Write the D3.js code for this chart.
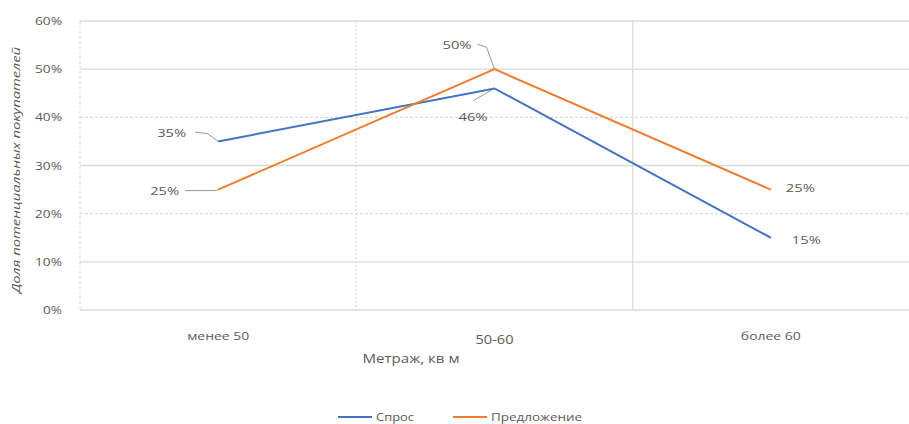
<!DOCTYPE html>
<html><head><meta charset="utf-8">
<script src="https://cdn.jsdelivr.net/npm/d3@7"></script>
<style>body{margin:0;background:#fff}svg{display:block;font-family:"Open Sans","DejaVu Sans",sans-serif}</style>
</head><body><svg id="c" width="909" height="424"></svg>
<script>
const categories = ["менее 50", "50-60", "более 60"];
const seriesNames = ["Спрос", "Предложение"];
const demand = [35, 46, 15];
const supply = [25, 50, 25];
const yTicks = [0, 10, 20, 30, 40, 50, 60];
const colors = ["#4472C4", "#ED7D31"];

const svg = d3.select("#c");
const m = {l: 80, r: 0, t: 21, b: 114};
const W = 909, H = 424;
const x = d3.scaleBand().domain(categories).range([m.l, W - m.r]);
const y = d3.scaleLinear().domain([0, 60]).range([H - m.b, m.t]);
const gridCol = "#d6ddd6";
const txt = "#5a5a5a";

// horizontal gridlines
svg.append("g").selectAll("line").data(yTicks).join("line")
  .attr("x1", m.l).attr("x2", W).attr("y1", d => y(d)).attr("y2", d => y(d))
  .attr("stroke", gridCol).attr("stroke-width", d => d === 0 ? 1.5 : 1.3)
  .attr("stroke-dasharray", d => (d === 20 || d === 40) ? "3,2" : null);
// vertical separators
svg.append("g").selectAll("line").data(categories.slice(1)).join("line")
  .attr("x1", d => x(d)).attr("x2", d => x(d)).attr("y1", m.t).attr("y2", y(0))
  .attr("stroke", gridCol).attr("stroke-width", 1.2)
  .attr("stroke-dasharray", (d, i) => i === 0 ? "2,2" : null);
svg.append("line").attr("x1", m.l).attr("x2", m.l).attr("y1", m.t).attr("y2", y(0))
  .attr("stroke", gridCol).attr("stroke-dasharray", "3,2");

// y axis labels
svg.append("g").selectAll("text").data(yTicks).join("text")
  .attr("x", 62).attr("y", d => y(d) + 4).attr("text-anchor", "end")
  .attr("font-size", 11).attr("fill", txt)
  .attr("textLength", d => d === 0 ? 19 : 27).attr("lengthAdjust", "spacingAndGlyphs")
  .text(d => d + "%");

// x axis labels
const catW = [62, 38, 60];
svg.append("g").selectAll("text").data(categories).join("text")
  .attr("x", d => x(d) + x.bandwidth() / 2).attr("y", (d, i) => i === 1 ? 344 : 340)
  .attr("text-anchor", "middle").attr("font-size", (d, i) => i === 1 ? 12.5 : 10)
  .attr("textLength", (d, i) => catW[i]).attr("lengthAdjust", "spacingAndGlyphs")
  .attr("fill", txt).text(d => d);

svg.append("text").attr("x", 411).attr("y", 363).attr("text-anchor", "middle")
  .attr("font-size", 12).attr("textLength", 97).attr("lengthAdjust", "spacingAndGlyphs")
  .attr("fill", txt).text("Метраж, кв м");
svg.append("text").attr("transform", "translate(20,170) rotate(-90)").attr("text-anchor", "middle")
  .attr("font-size", 11.5).attr("font-style", "italic").attr("fill", txt)
  .attr("textLength", 246).attr("lengthAdjust", "spacingAndGlyphs")
  .text("Доля потенциальных покупателей");

const cx = i => x(categories[i]) + x.bandwidth() / 2;
const line = d3.line().x((d, i) => cx(i)).y(d => y(d));
[demand, supply].forEach((s, k) => {
  svg.append("path").datum(s).attr("d", line).attr("fill", "none")
    .attr("stroke", colors[k]).attr("stroke-width", 2);
});

// data labels: [textStartDx, baselineDy, leader points relative to point]
const labelPos = [
  [[-61, -4, [[-23, -9], [-11, -8], [0, 0]]],
   [-36, 33, [[-21, 12], [0, 0]]],
   [21, 6, null]],
  [[-68, 5, [[-33, 1], [-3, 1], [0, 0]]],
   [-52, -20, [[-17, -25], [-8, -22], [0, 0]]],
   [15, 2, null]]
];
[demand, supply].forEach((s, k) => {
  s.forEach((v, i) => {
    const px = cx(i), py = y(v);
    const [dx, dy, leader] = labelPos[k][i];
    if (leader) {
      svg.append("polyline").attr("points", leader.map(p => `${px + p[0]},${py + p[1]}`).join(" "))
        .attr("fill", "none").attr("stroke", "#8c8c8c").attr("stroke-width", 0.9);
    }
    svg.append("text").attr("x", px + dx).attr("y", py + dy)
      .attr("font-size", 11.5).attr("fill", txt)
      .attr("textLength", 29).attr("lengthAdjust", "spacingAndGlyphs")
      .text(v + "%");
  });
});

// legend
const leg = svg.append("g");
const legX = [338, 453];
const legW = [38, 91];
seriesNames.forEach((n, k) => {
  leg.append("line").attr("x1", legX[k]).attr("x2", legX[k] + 34).attr("y1", 417).attr("y2", 417)
    .attr("stroke", colors[k]).attr("stroke-width", 2);
  leg.append("text").attr("x", legX[k] + 38).attr("y", 421).attr("font-size", 11)
    .attr("textLength", legW[k]).attr("lengthAdjust", "spacingAndGlyphs")
    .attr("fill", txt).text(n);
});
</script></body></html>
